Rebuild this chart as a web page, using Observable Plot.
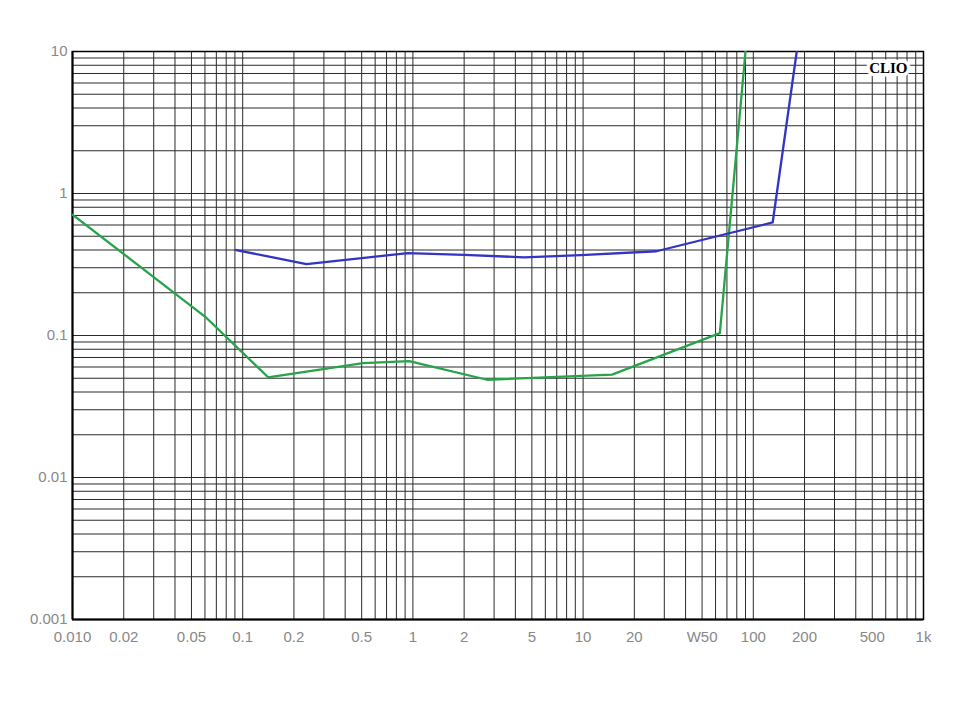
<!DOCTYPE html>
<html>
<head>
<meta charset="utf-8">
<script src="https://cdn.jsdelivr.net/npm/d3@7"></script>
<script src="https://cdn.jsdelivr.net/npm/@observablehq/plot@0.6"></script>
<style>
  html, body { margin: 0; padding: 0; background: #fff; }
  svg { display: block; }
</style>
</head>
<body>
<div id="chart"></div>
<script>
// Tick values and labels
const xTickValues = [0.01, 0.02, 0.05, 0.1, 0.2, 0.5, 1, 2, 5, 10, 20, 50, 100, 200, 500, 1000];
const xTickLabels = ["0.010", "0.02", "0.05", "0.1", "0.2", "0.5", "1", "2", "5", "10", "20", "W50", "100", "200", "500", "1k"];
const yTickValues = [0.001, 0.01, 0.1, 1, 10];
const yTickLabels = ["0.001", "0.01", "0.1", "1", "10"];

// Grid: decades × multipliers
const xDecades = [0.01, 0.1, 1, 10, 100];
const yDecades = [0.001, 0.01, 0.1, 1];
const gridSteps = [1, 2, 3, 4, 5, 6, 7, 8, 9];

// Series
const blueX = [0.0916, 0.237, 0.93, 2.0, 4.5, 9.7, 27, 130, 180];
const blueY = [0.40, 0.318, 0.38, 0.37, 0.355, 0.368, 0.392, 0.625, 10];
const greenX = [0.01, 0.06, 0.141, 0.51, 0.95, 2.73, 14.8, 63.6, 90];
const greenY = [0.71, 0.136, 0.0508, 0.0638, 0.066, 0.0488, 0.053, 0.104, 10];

const gridX = xDecades.flatMap(d => gridSteps.map(s => d * s)).concat([1000]);
const gridY = yDecades.flatMap(d => gridSteps.map(s => d * s)).concat([10]);
const blue = blueX.map((x, i) => ({x, y: blueY[i]}));
const green = greenX.map((x, i) => ({x, y: greenY[i]}));
const xTicks = xTickValues.map((v, i) => ({v, label: xTickLabels[i]}));
const yTicks = yTickValues.map((v, i) => ({v, label: yTickLabels[i]}));

const chart = Plot.plot({
  width: 960,
  height: 720,
  marginLeft: 72,
  marginRight: 37,
  marginTop: 51,
  marginBottom: 101,
  style: {background: "#fff", fontFamily: "'Liberation Sans', Arial, sans-serif", fontSize: "15px"},
  x: {type: "log", domain: [0.01, 1000], axis: null},
  y: {type: "log", domain: [0.001, 10], axis: null},
  marks: [
    Plot.ruleX(gridX, {stroke: "#2a2a2a", strokeWidth: 1}),
    Plot.ruleY(gridY, {stroke: "#2a2a2a", strokeWidth: 1}),
    Plot.frame({stroke: "#000", strokeWidth: 1.5}),
    Plot.ruleX([0.01], {stroke: "#000", strokeWidth: 2}),
    Plot.ruleY([0.001], {stroke: "#000", strokeWidth: 2}),
    Plot.line(green, {x: "x", y: "y", stroke: "#27a34a", strokeWidth: 2.3, clip: true}),
    Plot.line(blue, {x: "x", y: "y", stroke: "#3434c4", strokeWidth: 2.3, clip: true}),
    Plot.text(["CLIO"], {
      frameAnchor: "top-right", dx: -16, dy: 11,
      fontFamily: "'Liberation Serif', 'DejaVu Serif', serif", fontWeight: "bold", fontSize: 15,
      fill: "#000", stroke: "#fff", strokeWidth: 7, paintOrder: "stroke"
    }),
    Plot.text(xTicks, {
      x: "v", text: "label", frameAnchor: "bottom", dy: 18, lineAnchor: "middle",
      fill: "#888", fontSize: 15
    }),
    Plot.text(yTicks, {
      y: "v", text: "label", frameAnchor: "left", dx: -5, textAnchor: "end",
      fill: "#888", fontSize: 15
    })
  ]
});
document.getElementById("chart").appendChild(chart);
</script>
</body>
</html>
